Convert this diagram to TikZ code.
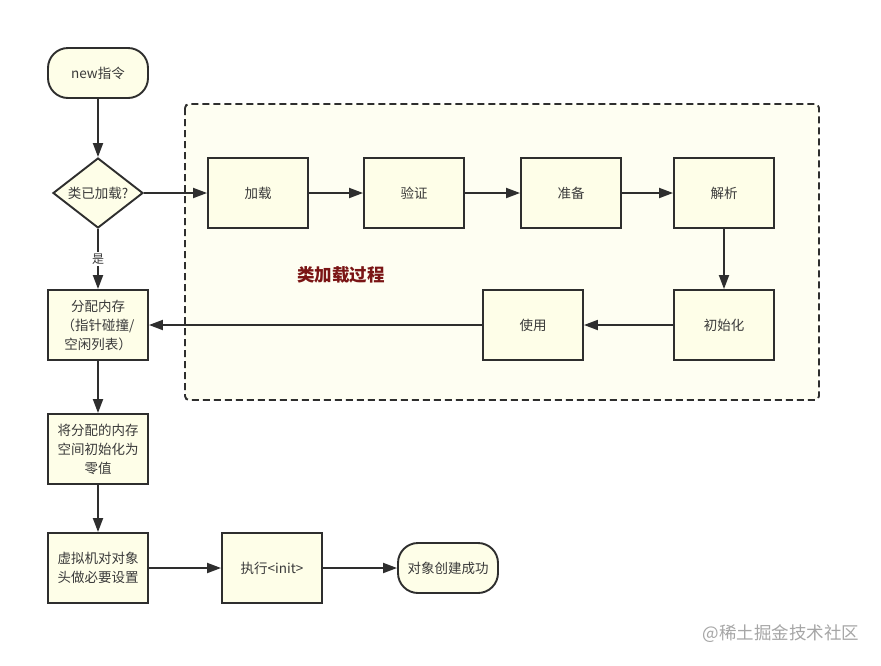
\documentclass[tikz,border=0pt]{standalone}
\usepackage{fontspec}
\setmainfont{Noto Sans CJK SC}
\usetikzlibrary{arrows.meta,shapes.geometric}
\definecolor{boxfill}{HTML}{FEFEE8}
\definecolor{areafill}{HTML}{FEFEF2}
\definecolor{linec}{HTML}{2E2E2E}
\definecolor{textc}{HTML}{3A3A3A}
\definecolor{titlec}{HTML}{7A1515}
\begin{document}
\begin{tikzpicture}[x=1pt,y=-1pt,
  every node/.style={font=\fontsize{13.5}{19}\selectfont, text=textc},
  proc/.style={draw=linec, line width=1.9pt, fill=boxfill, minimum width=100pt, minimum height=70pt, inner sep=2pt, align=center},
  term/.style={draw=linec, line width=1.9pt, fill=boxfill, rounded corners=20pt, minimum width=100pt, minimum height=50pt, align=center},
  dec/.style={draw=linec, line width=1.9pt, fill=boxfill, diamond, minimum width=90pt, minimum height=70pt, inner sep=0pt, aspect=1.3},
  conn/.style={draw=linec, line width=1.9pt, -{Triangle[length=14pt,width=10pt]}}
]
\useasboundingbox (0,0) rectangle (881,665);
\fill[white] (0,0) rectangle (881,665);
\draw[linec, line width=1.9pt, dashed, dash pattern=on 7pt off 4pt, fill=areafill, rounded corners=4pt] (185,104) rectangle (819,400);

\node[term] (new) at (98,73) {new指令};
\node[dec] (chk) at (98,193) {类已加载?};
\node[proc] (load) at (258,193) {加载};
\node[proc] (ver) at (414,193) {验证};
\node[proc] (prep) at (571,193) {准备};
\node[proc] (res) at (724,193) {解析};
\node[proc] (init) at (724,325) {初始化};
\node[proc] (use) at (533,325) {使用};
\node[font=\fontsize{17.5}{20}\selectfont\bfseries, text=titlec] (title) at (341,275) {类加载过程};
\node[proc] (alloc) at (98,325) {分配内存\\（指针碰撞/\\空闲列表）};
\node[proc] (zero) at (98,449) {将分配的内存\\空间初始化为\\零值};
\node[proc] (hdr) at (98,568) {虚拟机对对象\\头做必要设置};
\node[proc] (exec) at (272,568) {执行<init>};
\node[term] (done) at (448,568) {对象创建成功};
\node[font=\fontsize{17.5}{20}\selectfont, text=gray!70] (wm) at (781,634) {@稀土掘金技术社区};

\draw[conn] (new) -- (chk);
\draw[conn] (chk) -- (load);
\draw[conn] (load) -- (ver);
\draw[conn] (ver) -- (prep);
\draw[conn] (prep) -- (res);
\draw[conn] (res) -- (init);
\draw[conn] (init) -- (use);
\draw[conn] (use) -- (alloc);
\draw[conn] (chk) -- node[fill=white, inner sep=1.5pt, font=\fontsize{12}{14}\selectfont] (yes) {是} (alloc);
\draw[conn] (alloc) -- (zero);
\draw[conn] (zero) -- (hdr);
\draw[conn] (hdr) -- (exec);
\draw[conn] (exec) -- (done);
\end{tikzpicture}
\end{document}
